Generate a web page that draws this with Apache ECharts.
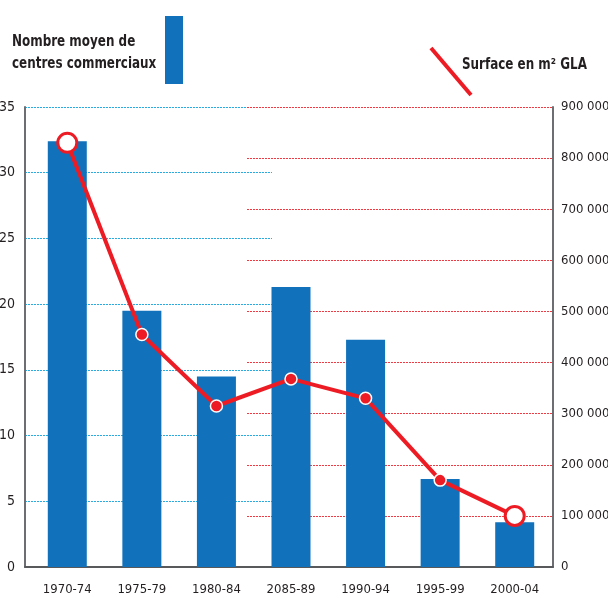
<!DOCTYPE html>
<html>
<head>
<meta charset="utf-8">
<script src="https://cdn.jsdelivr.net/npm/echarts@6/dist/echarts.min.js"></script>
<style>
    html, body { margin: 0; padding: 0; background: #fff; }
    #chart { width: 608px; height: 598px; }
</style>
</head>
<body>
<div id="chart"></div>
<script>
// data
const periods = ['1970-74', '1975-79', '1980-84', '2085-89', '1990-94', '1995-99', '2000-04']
const centres = [32.4, 19.5, 14.5, 21.3, 17.3, 6.7, 3.4]
const surface = [830000, 455000, 315000, 368000, 330000, 170000, 100000]
// axis ranges: [min, max, interval]
const centresScale = [0, 35, 5]
const surfaceScale = [0, 900000, 100000]

// style
const blue = '#1172bb',
    red = '#ed1c24',
    font = '"DejaVu Sans Condensed", "DejaVu Sans", sans-serif',
    textColor = '#231f20'

const fmtSpace = (v) => String(v).replace(/\B(?=(\d{3})+(?!\d))/g, ' ')

const labelStyle = { fontFamily: font, fontSize: 13, color: textColor }
const plotBox = { top: 107, bottom: 31 }

// blue grid = left part, red grid = right part (partial gridlines like the original)
const frameX = (gridIndex) => ({
    type: 'value',
    gridIndex: gridIndex,
    axisLine: { show: true, onZero: false, lineStyle: { color: '#58595b', width: 2 } },
    axisTick: { show: false },
    axisLabel: { show: false },
    splitLine: { show: false },
})

const lineData = surface.map((v, i) => {
    const big = i === 0 || i === surface.length - 1
    return big
        ? { value: v, symbolSize: 19, itemStyle: { color: '#fff', borderColor: red, borderWidth: 3 } }
        : { value: v, symbolSize: 12, itemStyle: { color: red, borderColor: '#fff', borderWidth: 1.5 } }
})

// condensed bold legend text
const legendText = (x, y, text) => ({
    type: 'text',
    x: x,
    y: y,
    scaleX: 0.83,
    style: {
        text: text,
        font: 'bold 16px ' + font,
        fill: textColor,
        lineHeight: 22,
        verticalAlign: 'top',
    },
})

const chart = echarts.init(document.getElementById('chart'), null, { renderer: 'canvas' })
const option = {
    animation: false,
    backgroundColor: '#fff',
    grid: [
        { left: 30, right: 56, ...plotBox, outerBoundsMode: 'none' },
        { left: 25, right: 608 - 272, ...plotBox, outerBoundsMode: 'none' },
        { left: 247, right: 55, ...plotBox, outerBoundsMode: 'none' },
    ],
    xAxis: [
        {
            type: 'category',
            gridIndex: 0,
            data: periods,
            axisLine: { show: false },
            axisTick: { show: false },
            axisLabel: { ...labelStyle, margin: 16 },
        },
        frameX(1),
        frameX(2),
    ],
    yAxis: [
        { type: 'value', gridIndex: 0, min: centresScale[0], max: centresScale[1], interval: centresScale[2], show: false },
        { type: 'value', gridIndex: 0, min: surfaceScale[0], max: surfaceScale[1], interval: surfaceScale[2], show: false },
        {
            type: 'value',
            gridIndex: 1,
            position: 'left',
            min: centresScale[0],
            max: centresScale[1],
            interval: centresScale[2],
            axisLine: { show: true, onZero: false, lineStyle: { color: '#6d6e71', width: 2 } },
            axisTick: { show: false },
            axisLabel: { ...labelStyle, fontSize: 14, margin: 10 },
            splitLine: { show: true, lineStyle: { color: '#29abe2', width: 1, type: [2, 1] } },
        },
        {
            type: 'value',
            gridIndex: 2,
            position: 'right',
            min: surfaceScale[0],
            max: surfaceScale[1],
            interval: surfaceScale[2],
            axisLine: { show: true, onZero: false, lineStyle: { color: '#6d6e71', width: 2 } },
            axisTick: { show: false },
            axisLabel: { ...labelStyle, margin: 8, formatter: fmtSpace },
            splitLine: { show: true, lineStyle: { color: '#ee3a43', width: 1, type: [2, 1] } },
        },
    ],
    series: [
        {
            type: 'bar',
            xAxisIndex: 0,
            yAxisIndex: 0,
            data: centres,
            barWidth: 39,
            itemStyle: { color: blue },
            z: 3,
        },
        {
            type: 'line',
            xAxisIndex: 0,
            yAxisIndex: 1,
            data: lineData,
            symbol: 'circle',
            showAllSymbol: true,
            lineStyle: { color: red, width: 4 },
            itemStyle: { color: red },
            z: 5,
        },
    ],
    graphic: [
        legendText(12, 31, 'Nombre moyen de\ncentres commerciaux'),
        { type: 'rect', shape: { x: 165, y: 16, width: 18, height: 68 }, style: { fill: blue } },
        { type: 'line', shape: { x1: 431, y1: 48, x2: 471, y2: 95 }, style: { stroke: red, lineWidth: 4 } },
        legendText(462, 54, 'Surface en m² GLA'),
    ],
}
chart.setOption(option)
</script>
</body>
</html>
